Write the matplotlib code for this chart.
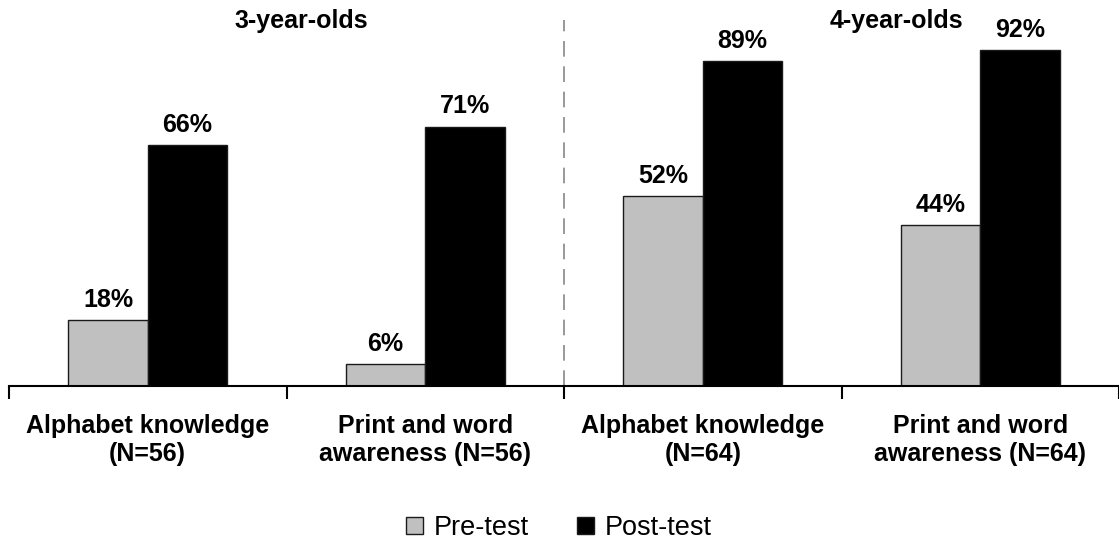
import matplotlib
matplotlib.use("Agg")
import matplotlib.pyplot as plt
from matplotlib.patches import Patch
import numpy as np

plt.rcParams['font.family'] = ['Liberation Sans', 'DejaVu Sans']

categories = ["Alphabet knowledge\n(N=56)", "Print and word\nawareness (N=56)",
              "Alphabet knowledge\n(N=64)", "Print and word\nawareness (N=64)"]
pre_test = [18, 6, 52, 44]
post_test = [66, 71, 89, 92]
group_titles = ["3-year-olds", "4-year-olds"]

W, H = 1119, 542
fig = plt.figure(figsize=(W/100, H/100), dpi=100)
ax = fig.add_axes([9/W, 1-386/H, 1-9/W, 386/H])

x = np.arange(len(categories))
bw = 0.286
ax.bar(x - bw/2, pre_test, bw, color='#C0C0C0', edgecolor='#1a1a1a', linewidth=1.0, label='Pre-test')
ax.bar(x + bw/2, post_test, bw, color='black', edgecolor='#1a1a1a', linewidth=1.0, label='Post-test')

for i in range(len(x)):
    ax.text(x[i] - bw/2, pre_test[i] + 3.7, f"{pre_test[i]}%", ha='center', va='baseline',
            fontsize=18, fontweight='bold')
    ax.text(x[i] + bw/2, post_test[i] + 3.7, f"{post_test[i]}%", ha='center', va='baseline',
            fontsize=18, fontweight='bold')

ax.set_xlim(-0.5, -0.5 + (W - 9) / 280.5)
ax.set_ylim(0, 386/3.65)

ax.set_xticks([-0.5, 0.5, 1.5, 2.5, 3.5])
ax.set_xticklabels([])
ax.set_xticks(x, minor=True)
ax.set_xticklabels(categories, minor=True, fontsize=18, fontweight='bold', linespacing=1.22)
ax.tick_params(axis='x', which='minor', length=0, pad=20)
ax.tick_params(axis='x', which='major', length=9, width=1.5, direction='out', color='black')
ax.set_yticks([])
for s in ['top', 'right', 'left']:
    ax.spines[s].set_visible(False)
ax.spines['bottom'].set_linewidth(1.5)

ax.axvline(1.5, ymin=0, ymax=(386-20)/386, color='#888888', linestyle=(0, (9.4, 5.8)), linewidth=1.2)

ax.text(0.555, 1 - 21/386, group_titles[0], transform=ax.get_xaxis_transform(), ha='center', va='center',
        fontsize=18, fontweight='bold')
ax.text(2.698, 1 - 21/386, group_titles[1], transform=ax.get_xaxis_transform(), ha='center', va='center',
        fontsize=18, fontweight='bold')

handles = [Patch(facecolor='#C0C0C0', edgecolor='#1a1a1a', label='Pre-test'),
           Patch(facecolor='black', edgecolor='#1a1a1a', label='Post-test')]
fig.legend(handles=handles, loc='center', bbox_to_anchor=(559/W, 1-528/H), ncol=2, frameon=False,
           fontsize=19.5, handlelength=0.6, handleheight=0.6, handletextpad=0.4, columnspacing=1.8,
           borderpad=0)

fig.savefig("out.png", dpi=100)
